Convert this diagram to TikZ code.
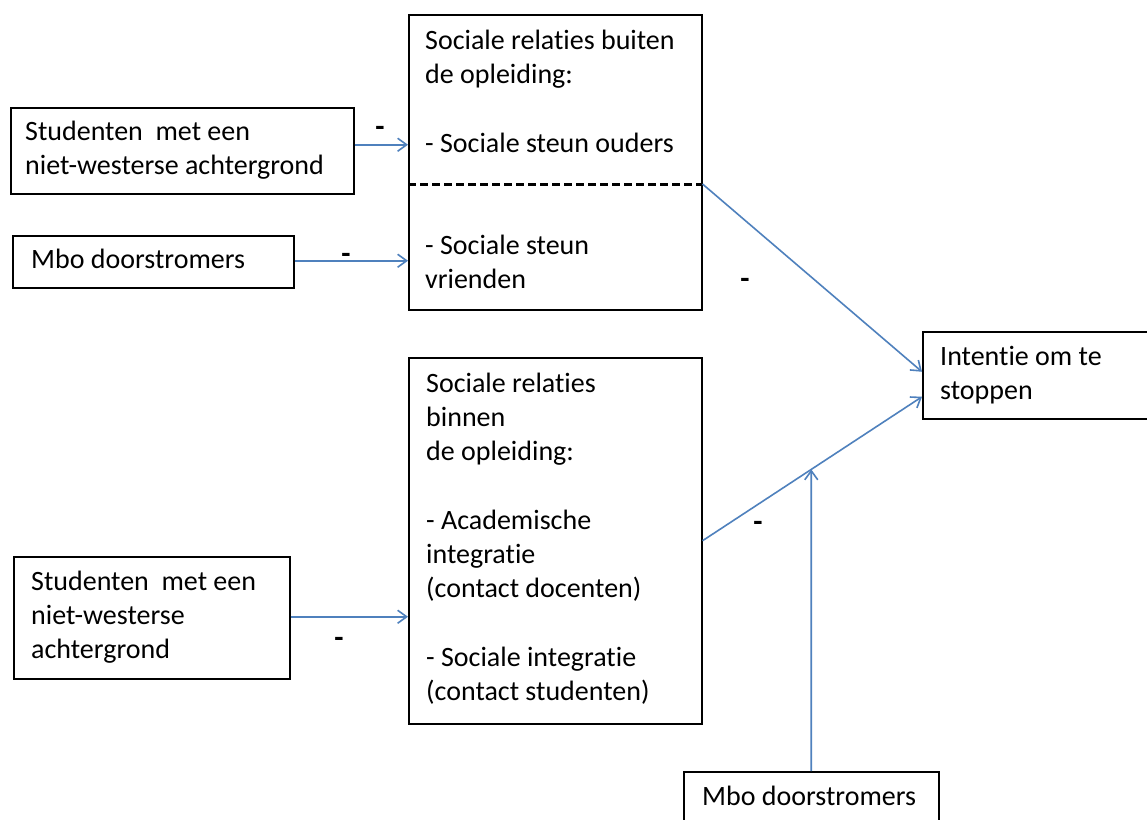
\documentclass[tikz,border=0pt]{standalone}
\usepackage{fontspec}
\setmainfont{Carlito}[Ligatures={NoCommon,NoContextual}]
\usetikzlibrary{arrows.meta,calc}
\definecolor{linkblue}{RGB}{79,129,189}
\begin{document}
\begin{tikzpicture}[x=1pt,y=-1pt,
  box/.style={draw=black, line width=1.5pt, inner sep=0pt, anchor=north west},
  txt/.style={anchor=north west, inner sep=0pt, align=left, font=\fontsize{28}{34}\selectfont},
  lab/.style={inner sep=0pt, font=\fontsize{30}{34}\selectfont\bfseries},
  conn/.style={draw=linkblue, line width=1.6pt, -{Straight Barb[length=9pt,width=13pt]}},
  dashline/.style={draw=black, line width=3pt, dash pattern=on 8pt off 4pt}]
\useasboundingbox (0,0) rectangle (1147,819);
\fill[white] (0,0) rectangle (1147,819);
\clip (0,0) rectangle (1147,819);

% boxes
\node[box, minimum width=343pt, minimum height=86pt] (A) at (10,107) {};
\node[box, minimum width=281pt, minimum height=52pt] (B) at (12,235) {};
\node[box, minimum width=293pt, minimum height=295pt] (C) at (408,14) {};
\node[box, minimum width=260pt, minimum height=87pt] (D) at (922,331) {};
\node[box, minimum width=293pt, minimum height=366pt] (E) at (408,357) {};
\node[box, minimum width=276pt, minimum height=122pt] (F) at (13,556) {};
\node[box, minimum width=255pt, minimum height=80pt] (G) at (683,771) {};

% texts
\node[txt] (At) at (25,116.2) {\strut Studenten\ \ met een\\niet-westerse achtergrond};
\node[txt] (Bt) at (31,244.2) {\strut Mbo doorstromers};
\node[txt] (Ct) at (425,25.2) {\strut Sociale relaties buiten\\de opleiding:\\[35pt]- Sociale steun ouders\\[68pt]- Sociale steun\\vrienden};
\node[txt] (Dt) at (940,341.2) {\strut Intentie om te\\stoppen};
\node[txt] (Et) at (426,368.2) {\strut Sociale relaties\\binnen\\de opleiding:\\[35pt]- Academische\\integratie\\(contact docenten)\\[35pt]- Sociale integratie\\(contact studenten)};
\node[txt] (Ft) at (31,566.2) {\strut Studenten\ \ met een\\niet-westerse\\achtergrond};
\node[txt] (Gt) at (702,781.2) {\strut Mbo doorstromers};

% dashed divider in C
\path (C.north west) ++(0,170) coordinate (dl);
\path (C.north east) ++(0,170) coordinate (dr);
\draw[dashline] (dl) -- (dr);

% connectors
\coordinate (dU) at ([yshift=3.5pt]D.west);
\coordinate (dL) at ([yshift=-21.5pt]D.west);
\draw[conn] ([yshift=6pt]A.east) -- ([yshift=6pt]A.east -| C.west);
\draw[conn] ([yshift=1pt]B.east) -- ([yshift=1pt]B.east -| C.west);
\draw[conn] (dr) -- (dU);
\draw[conn] (E.east) -- (dL);
\draw[conn] ([yshift=1pt]F.east) -- ([yshift=1pt]F.east -| E.west);
\coordinate (J) at (intersection cs: first line={(E.east)--(dL)}, second line={(G.north)--([yshift=10pt]G.north)});
\draw[conn] (G.north) -- (J);

% labels
\node[lab] (l1) at (380,131) {-};
\node[lab] (l2) at (346,258) {-};
\node[lab] (l3) at (745,283) {-};
\node[lab] (l4) at (758,526) {-};
\node[lab] (l5) at (339,642) {-};
\end{tikzpicture}
\end{document}
